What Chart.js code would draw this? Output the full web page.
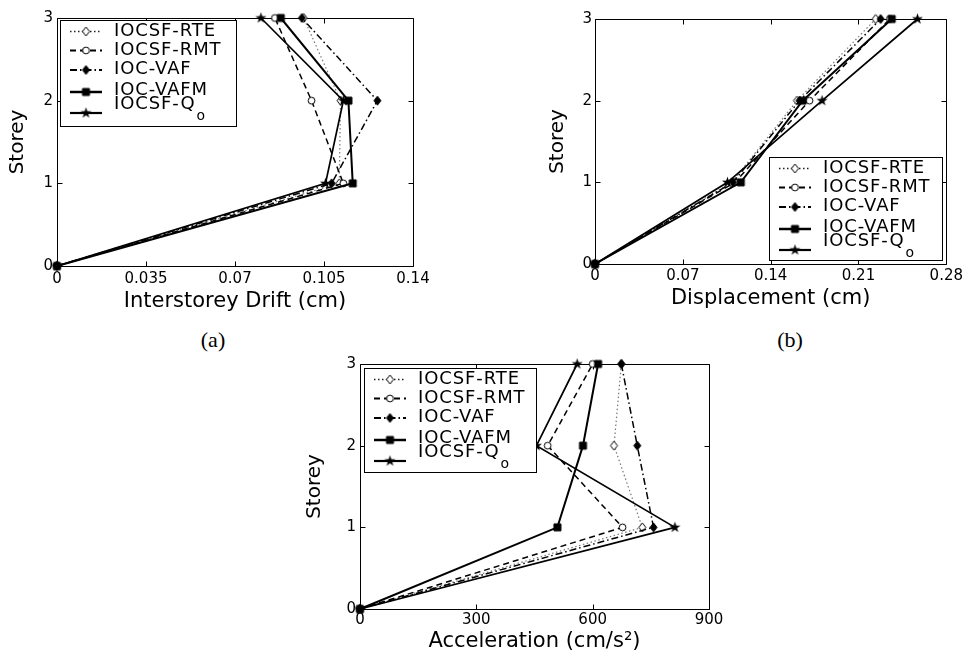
<!DOCTYPE html>
<html>
<head>
<meta charset="utf-8">
<title>Storey response</title>
<script src="https://cdn.jsdelivr.net/npm/chart.js@4.4.1/dist/chart.umd.min.js"></script>
<style>
    html, body { margin: 0; padding: 0; background: #fff; }
    body { width: 966px; height: 654px; position: relative; overflow: hidden; }
    canvas { position: absolute; }
    .caption {
        position: absolute;
        transform: translate(-50%, -50%);
        font-family: "Liberation Serif", "Times New Roman", serif;
        font-size: 22px;
        color: #000;
    }
</style>
</head>
<body>
<canvas id="chartA" width="440" height="320" style="left:0;top:0"></canvas>
<canvas id="chartB" width="426" height="320" style="left:540px;top:0"></canvas>
<canvas id="chartC" width="450" height="309" style="left:290px;top:345px"></canvas>
<div class="caption" style="left:213px;top:340px">(a)</div>
<div class="caption" style="left:790px;top:340px">(b)</div>

<script>
// Data
const storeys = [0, 1, 2, 3];
const storeyTicks = [0, 1, 2, 3];
const seriesLabels = ['IOCSF-RTE', 'IOCSF-RMT', 'IOC-VAF', 'IOC-VAFM', 'IOCSF-Q'];

// (a) interstorey drift (cm)
const driftRTE = [0, 0.111, 0.1115, 0.097];
const driftRMT = [0, 0.1126, 0.1001, 0.0857];
const driftVAF = [0, 0.108, 0.126, 0.0963];
const driftVAFM = [0, 0.1163, 0.1146, 0.088];
const driftQo = [0, 0.1056, 0.1126, 0.0802];
const driftTicks = [0, 0.035, 0.07, 0.105, 0.14];
const driftTickLabels = ['0', '0.035', '0.07', '0.105', '0.14'];

// (b) displacement (cm)
const dispRTE = [0, 0.109, 0.161, 0.2237];
const dispRMT = [0, 0.1115, 0.171, 0.235];
const dispVAF = [0, 0.110, 0.163, 0.2277];
const dispVAFM = [0, 0.1162, 0.1655, 0.2365];
const dispQo = [0, 0.1056, 0.181, 0.257];
const dispTicks = [0, 0.07, 0.14, 0.21, 0.28];
const dispTickLabels = ['0', '0.07', '0.14', '0.21', '0.28'];

// (c) acceleration (cm/s^2)
const accRTE = [0, 728, 655, 674];
const accRMT = [0, 677, 484, 600];
const accVAF = [0, 757, 715, 674];
const accVAFM = [0, 509, 575, 614];
const accQo = [0, 812, 455, 560];
const accTicks = [0, 300, 600, 900];
const accTickLabels = ['0', '300', '600', '900'];

const SANS = '"DejaVu Sans", "Liberation Sans", sans-serif';

// line look per series
const seriesStyles = [
    { color: '#777', width: 1.2, dash: [1.5, 2.5], marker: 'diamondOpen' },
    { color: '#000', width: 1.5, dash: [6, 4], marker: 'circleOpen' },
    { color: '#000', width: 1.5, dash: [7, 3, 1.5, 3], marker: 'diamond' },
    { color: '#000', width: 2, dash: [], marker: 'square' },
    { color: '#000', width: 1.7, dash: [], marker: 'star' }
];

// small canvases used as point styles (also reused in the legend)
function makeMarker(kind) {
    const c = document.createElement('canvas');
    c.width = 13; c.height = 13;
    const g = c.getContext('2d');
    const m = 6.5;
    g.lineWidth = 1;
    g.strokeStyle = '#000';
    g.fillStyle = '#000';
    g.beginPath();
    if (kind === 'diamondOpen' || kind === 'diamond') {
        g.moveTo(m, m - 4.5); g.lineTo(m + 3.5, m); g.lineTo(m, m + 4.5); g.lineTo(m - 3.5, m);
        g.closePath();
    } else if (kind === 'circleOpen') {
        g.arc(m, m, 3.4, 0, Math.PI * 2);
    } else if (kind === 'square') {
        g.rect(m - 3.5, m - 3.5, 7, 7);
    } else if (kind === 'star') {
        for (let k = 0; k < 10; k++) {
            const r = k % 2 === 0 ? 5.8 : 2.3;
            const ang = -Math.PI / 2 + k * Math.PI / 5;
            const px = m + r * Math.cos(ang), py = m + r * Math.sin(ang);
            if (k === 0) g.moveTo(px, py); else g.lineTo(px, py);
        }
        g.closePath();
    }
    if (kind.endsWith('Open')) {
        g.fillStyle = '#fff';
        g.fill();
        g.stroke();
    } else {
        g.fill();
        if (kind !== 'star') g.stroke();
    }
    return c;
}
const markers = seriesStyles.map(s => makeMarker(s.marker));

// box, inward ticks and legend, matlab style
const framePlugin = {
    id: 'frame',
    beforeDatasetsDraw(chart) {
        const { ctx, chartArea: a, scales: { x, y } } = chart;
        const L = Math.round(a.left) + 0.5, R = Math.round(a.right) + 0.5;
        const T = Math.round(a.top) + 0.5, B = Math.round(a.bottom) + 0.5;
        ctx.save();
        ctx.strokeStyle = '#000';
        ctx.lineWidth = 1;
        ctx.beginPath();
        ctx.rect(L, T, R - L, B - T);
        x.ticks.forEach(t => {
            const px = Math.round(x.getPixelForValue(t.value)) + 0.5;
            ctx.moveTo(px, B); ctx.lineTo(px, B - 5);
            ctx.moveTo(px, T); ctx.lineTo(px, T + 5);
        });
        y.ticks.forEach(t => {
            const py = Math.round(y.getPixelForValue(t.value)) + 0.5;
            ctx.moveTo(L, py); ctx.lineTo(L + 5, py);
            ctx.moveTo(R, py); ctx.lineTo(R - 5, py);
        });
        ctx.stroke();
        ctx.restore();
    },
    afterDraw(chart, args, opts) {
        const box = opts.box;
        if (!box) return;
        const { ctx } = chart;
        const sampleY = [11.5, 30.5, 50, 72, 93];
        const textY = [11.5, 30, 49, 70, 84];
        ctx.save();
        ctx.fillStyle = '#fff';
        ctx.fillRect(box.x, box.y, box.w, box.h);
        ctx.strokeStyle = '#000';
        ctx.lineWidth = 1;
        ctx.strokeRect(Math.round(box.x) + 0.5, Math.round(box.y) + 0.5, Math.round(box.w), Math.round(box.h));

        chart.data.datasets.forEach((ds, i) => {
            const sy = box.y + sampleY[i];
            ctx.save();
            ctx.strokeStyle = i === 0 ? '#222' : ds.borderColor;
            ctx.lineWidth = ds.borderWidth + 0.5;
            ctx.setLineDash(ds.borderDash);
            ctx.beginPath();
            ctx.moveTo(box.x + 10, sy);
            ctx.lineTo(box.x + 42, sy);
            ctx.stroke();
            ctx.restore();
            const mk = markers[i];
            ctx.drawImage(mk, box.x + 26 - mk.width / 2, sy - mk.height / 2);

            ctx.fillStyle = '#000';
            ctx.font = '18px ' + SANS;
            ctx.letterSpacing = '0.9px';
            ctx.textAlign = 'left';
            ctx.textBaseline = 'middle';
            const tx = box.x + 54, ty = box.y + textY[i];
            ctx.fillText(ds.label, tx, ty);
            if (i === 4) {
                const w = ctx.measureText(ds.label).width;
                ctx.font = '14px ' + SANS;
                ctx.fillText('o', tx + w + 1, box.y + 96);
            }
        });
        ctx.restore();
    }
};

function buildChart(id, values, xTicks, xTickLabels, xTitle, lay) {
    return new Chart(document.getElementById(id), {
        type: 'line',
        data: {
            datasets: values.map((vals, i) => ({
                label: seriesLabels[i],
                data: storeys.map((s, k) => ({ x: vals[k], y: s })),
                borderColor: seriesStyles[i].color,
                borderWidth: seriesStyles[i].width,
                borderDash: seriesStyles[i].dash,
                pointStyle: markers[i],
                pointRadius: 5,
                pointHoverRadius: 5,
                fill: false,
                tension: 0,
                clip: false,
                order: values.length - i
            }))
        },
        options: {
            responsive: false,
            animation: false,
            events: [],
            layout: { padding: { top: lay.top, right: lay.right, left: 0, bottom: 0 } },
            plugins: {
                legend: { display: false },
                tooltip: { enabled: false },
                frame: { box: lay.legend }
            },
            scales: {
                x: {
                    type: 'linear',
                    min: xTicks[0],
                    max: xTicks[xTicks.length - 1],
                    afterBuildTicks: s => { s.ticks = xTicks.map(v => ({ value: v })); },
                    afterFit: s => { s.height = lay.xAxisH; },
                    grid: { display: false, drawTicks: false },
                    border: { display: false },
                    ticks: {
                        padding: lay.xTickPad,
                        color: '#000',
                        font: { family: SANS, size: 15 },
                        maxRotation: 0,
                        autoSkip: false,
                        callback: (v, i) => xTickLabels[i]
                    },
                    title: {
                        display: true,
                        text: xTitle,
                        color: '#000',
                        font: { family: SANS, size: 21 },
                        padding: { top: 0, bottom: lay.xTitlePad }
                    }
                },
                y: {
                    type: 'linear',
                    min: 0,
                    max: 3,
                    afterBuildTicks: s => { s.ticks = storeyTicks.map(v => ({ value: v })); },
                    afterFit: s => { s.width = lay.yAxisW; },
                    grid: { display: false, drawTicks: false },
                    border: { display: false },
                    ticks: {
                        padding: lay.yTickPad,
                        color: '#000',
                        font: { family: SANS, size: 15 },
                        callback: v => String(v)
                    },
                    title: {
                        display: true,
                        text: 'Storey',
                        color: '#000',
                        font: { family: SANS, size: 20 },
                        padding: { top: lay.yTitlePad, bottom: 0 }
                    }
                }
            }
        },
        plugins: [framePlugin]
    });
}

buildChart('chartA', [driftRTE, driftRMT, driftVAF, driftVAFM, driftQo],
    driftTicks, driftTickLabels, 'Interstorey Drift (cm)', {
        top: 18, right: 27, yAxisW: 57, xAxisH: 54,
        xTickPad: 4, yTickPad: 4, xTitlePad: 6, yTitlePad: 6,
        legend: { x: 60, y: 20, w: 176, h: 106 }
    });

buildChart('chartB', [dispRTE, dispRMT, dispVAF, dispVAFM, dispQo],
    dispTicks, dispTickLabels, 'Displacement (cm)', {
        top: 19, right: 19, yAxisW: 55, xAxisH: 56,
        xTickPad: 3, yTickPad: 3, xTitlePad: 9, yTitlePad: 6,
        legend: { x: 229, y: 157, w: 173, h: 103 }
    });

buildChart('chartC', [accRTE, accRMT, accVAF, accVAFM, accQo],
    accTicks, accTickLabels, 'Acceleration (cm/s²)', {
        top: 19, right: 31, yAxisW: 70, xAxisH: 45,
        xTickPad: 2, yTickPad: 4, xTitlePad: 0, yTitlePad: 13,
        legend: { x: 74, y: 23, w: 172, h: 104 }
    });
</script>
</body>
</html>
